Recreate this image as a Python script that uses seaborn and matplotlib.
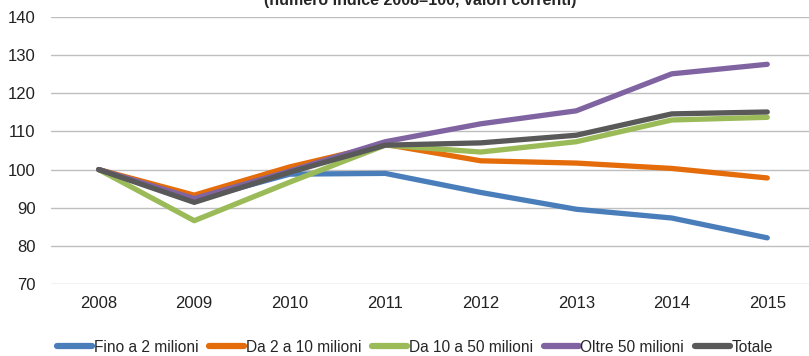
import pandas as pd
import numpy as np
import matplotlib
matplotlib.use('Agg')
import matplotlib.pyplot as plt
import seaborn as sns

anni = ['2008', '2009', '2010', '2011', '2012', '2013', '2014', '2015']

fino_2 = [100, 92.0, 98.8, 99.0, 94.0, 89.6, 87.3, 82.1]
da_2_10 = [100, 93.3, 100.7, 106.6, 102.3, 101.7, 100.3, 97.8]
da_10_50 = [100, 86.6, 96.7, 106.4, 104.6, 107.3, 113.0, 113.7]
oltre_50 = [100, 92.4, 99.6, 107.3, 112.0, 115.4, 125.1, 127.6]
totale = [100, 91.4, 99.3, 106.4, 107.0, 109.0, 114.6, 115.1]

serie = ['Fino a 2 milioni', 'Da 2 a 10 milioni', 'Da 10 a 50 milioni',
         'Oltre 50 milioni', 'Totale']
colori = ['#4A7EBB', '#E46C0A', '#9BBB59', '#8064A2', '#595959']

df = pd.DataFrame({
    'anno': anni * 5,
    'x': list(range(len(anni))) * 5,
    'valore': fino_2 + da_2_10 + da_10_50 + oltre_50 + totale,
    'serie': np.repeat(serie, len(anni)),
})

sns.set_style('white')
plt.rcParams['font.family'] = ['Liberation Sans', 'DejaVu Sans']

fig = plt.figure(figsize=(8.09, 3.56), dpi=100)
ax = fig.add_axes([51 / 809, 72 / 356, 764 / 809, 267 / 356])

sns.lineplot(data=df, x='x', y='valore', hue='serie', hue_order=serie,
             palette=colori, linewidth=3.8, ax=ax, legend=True,
             solid_capstyle='round', solid_joinstyle='round')

ax.set_xlim(-0.5, len(anni) - 0.5)
ax.set_ylim(70, 140)
ax.set_yticks(range(70, 141, 10))
ax.set_xticks(range(len(anni)))
ax.set_xticklabels(anni)
ax.grid(axis='y', color='#BEBEBE', linewidth=1)
ax.set_axisbelow(True)
for s in ax.spines.values():
    s.set_visible(False)
ax.tick_params(axis='both', length=0, labelsize=12, colors='#222222')
ax.tick_params(axis='y', pad=11)
ax.tick_params(axis='x', pad=9)
ax.set_xlabel('')
ax.set_ylabel('')

leg = ax.legend(loc='upper center', bbox_to_anchor=(364 / 764, -0.185), ncol=5,
                frameon=False, fontsize=11.2, handlelength=2.25, handletextpad=0.1,
                columnspacing=0.7, borderaxespad=0)
for line in leg.get_lines():
    line.set_linewidth(4.5)

fig.text(420 / 809, 1 - 5 / 356, '(numero indice 2008=100, valori correnti)',
         ha='center', va='baseline', fontsize=11.5, fontweight='bold')

fig.savefig('out.png', dpi=100, facecolor='white')
